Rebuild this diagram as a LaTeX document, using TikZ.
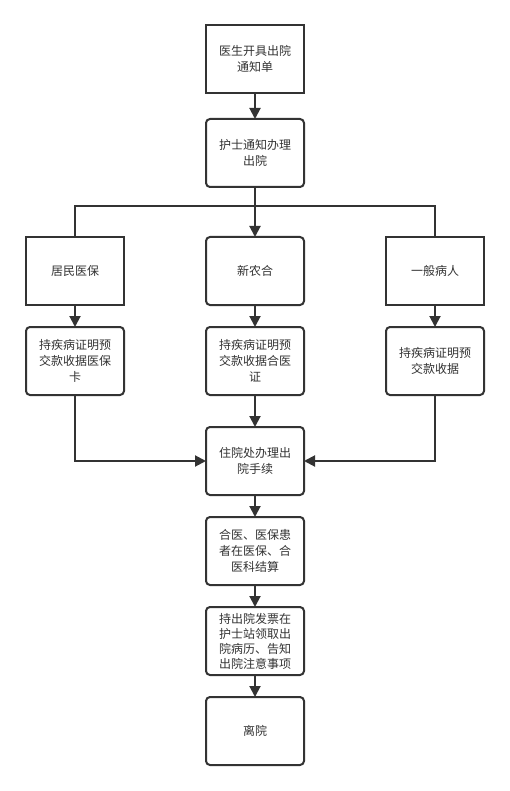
\documentclass[tikz,border=0pt]{standalone}
\usepackage{fontspec}
\setmainfont{Noto Sans CJK SC}
\usepackage{xcolor}
\usepackage{tikz}
\usetikzlibrary{positioning,arrows.meta}
\definecolor{linegray}{HTML}{333333}
\tikzset{
	block/.style = {
		draw=linegray, line width=2pt, rectangle, minimum width=98pt, minimum height=68pt,
		outer sep=0pt, inner sep=2pt, align=center, text=linegray,
		font=\fontsize{12pt}{16pt}\selectfont
	}
}
\tikzset{
	process/.style = {
		block, rounded corners=4pt
	}
}
\tikzset{
	branch/.style = {
		draw=linegray, line width=2pt
	}
}
\tikzset{
	flow/.style = {
		branch, -{Triangle[length=11pt,width=11pt]}
	}
}

\begin{document}
\begin{tikzpicture}[x=1pt, y=1pt]
	\path[use as bounding box, fill=white] (0,0) rectangle (510,-791);
	\node[block] (notice) at (255,-59) {医生开具出院\\通知单};
	\node[process, below=26pt of notice] (nurse) {护士通知办理\\出院};
	\node[process, below=50pt of nurse] (xnh) {新农合};
	\node[block, left=82pt of xnh] (jmyb) {居民医保};
	\node[block, right=82pt of xnh] (ybbr) {一般病人};
	\node[process, below=22pt of jmyb] (jmybpay) {持疾病证明预\\交款收据医保\\卡};
	\node[process, below=22pt of xnh] (xnhpay) {持疾病证明预\\交款收据合医\\证};
	\node[process, below=22pt of ybbr] (ybbrpay) {持疾病证明预\\交款收据};
	\node[process, below=32pt of xnhpay] (discharge) {住院处办理出\\院手续};
	\node[process, below=22pt of discharge] (settle) {合医、医保患\\者在医保、合\\医科结算};
	\node[process, below=22pt of settle, font=\fontsize{12pt}{15pt}\selectfont] (invoice) {持出院发票在\\护士站领取出\\院病历、告知\\出院注意事项};
	\node[process, below=22pt of invoice] (leave) {离院};
	\coordinate[below=19pt of nurse] (fork);

	\draw[flow] (notice) -- (nurse);
	\draw[flow] (nurse) -- (xnh);
	\draw[branch] (jmyb.north) |- (fork) -| (ybbr.north);
	\draw[flow] (jmyb) -- (jmybpay);
	\draw[flow] (xnh) -- (xnhpay);
	\draw[flow] (ybbr) -- (ybbrpay);
	\draw[flow] (xnhpay) -- (discharge);
	\draw[flow] (jmybpay.south) |- (discharge.west);
	\draw[flow] (ybbrpay.south) |- (discharge.east);
	\draw[flow] (discharge) -- (settle);
	\draw[flow] (settle) -- (invoice);
	\draw[flow] (invoice) -- (leave);
\end{tikzpicture}
\end{document}
